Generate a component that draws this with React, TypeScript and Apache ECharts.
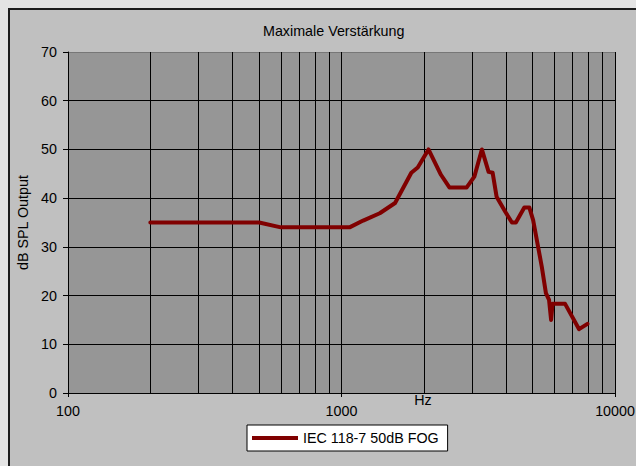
import React, { useEffect, useRef } from "react";
import * as echarts from "echarts";

const chartTitle = "Maximale Verstärkung";
const seriesName = "IEC 118-7 50dB FOG";
const xAxisName = "Hz";
const yAxisName = "dB SPL Output";

const freqHz = [200, 300, 400, 500, 600, 700, 800, 900, 1000, 1070, 1200, 1380, 1570, 1800, 1900, 2080, 2310, 2480, 2870, 3060, 3260, 3450, 3570, 3690, 3970, 4200, 4340, 4660, 4860, 5020, 5400, 5590, 5740, 5840, 5910, 6570, 7390, 7930];
const outputDb = [35, 35, 35, 35, 34, 34, 34, 34, 34, 34, 35.4, 36.9, 39, 45.2, 46.3, 50, 44.8, 42.2, 42.2, 44.4, 50, 45.4, 45.2, 40.3, 37.2, 35, 35, 38.1, 38.1, 35.5, 25.9, 20.5, 19.1, 15, 18.3, 18.3, 13.1, 14.2];

const minorGridHz = [200, 300, 400, 500, 600, 700, 800, 900, 2000, 3000, 4000, 5000, 6000, 7000, 8000, 9000];

const xMin = 100;
const xMax = 10000;
const yMin = 0;
const yMax = 70;
const yInterval = 10;

const FONT = "'Liberation Sans', Arial, sans-serif";

export default function App() {
  const ref = useRef<HTMLDivElement>(null);

  useEffect(() => {
    if (!ref.current) return;
    const chart = echarts.init(ref.current, undefined, { renderer: "svg" });
    const option: any = {
      animation: false,
      backgroundColor: "#e4e4e4",
      textStyle: { fontFamily: FONT },
      title: {
        text: chartTitle,
        left: 263,
        top: 24,
        padding: 0,
        textStyle: { fontSize: 14.3, fontWeight: "normal", color: "#000", fontFamily: FONT },
      },
      graphic: [
        {
          type: "rect",
          z: -10,
          silent: true,
          shape: { x: 9, y: 9, width: 640, height: 470 },
          style: { fill: "#c0c0c0", stroke: "#1e1e1e", lineWidth: 2 },
        },
        {
          type: "text",
          x: 423,
          y: 400,
          silent: true,
          style: {
            text: xAxisName,
            fontSize: 14.3,
            fontFamily: FONT,
            fill: "#000",
            align: "center",
            verticalAlign: "middle",
          },
        },
      ],
      legend: {
        data: [seriesName],
        left: 247,
        top: 425,
        padding: [6, 9, 6, 5],
        backgroundColor: "#fff",
        borderColor: "#000",
        borderWidth: 1,
        borderRadius: 0,
        icon: "rect",
        itemWidth: 46,
        itemHeight: 4,
        itemStyle: { color: "#800000" },
        textStyle: { fontSize: 14.3, color: "#000", fontFamily: FONT },
        selectedMode: false,
      },
      grid: {
        left: 68,
        right: 21,
        top: 52,
        bottom: 73,
        show: true,
        backgroundColor: "#969696",
        borderWidth: 0,
        outerBoundsMode: "none",
      },
      xAxis: {
        type: "log",
        logBase: 10,
        min: xMin,
        max: xMax,
        axisLine: { show: true, lineStyle: { color: "#000", width: 1 } },
        axisTick: { show: true, length: 4, lineStyle: { color: "#000" } },
        axisLabel: {
          fontSize: 14.3,
          color: "#000",
          margin: 11,
          fontFamily: FONT,
          formatter: (v: number) => String(Math.round(v)),
        },
        splitLine: { show: true, lineStyle: { color: "#000", width: 1 } },
      },
      yAxis: {
        type: "value",
        min: yMin,
        max: yMax,
        interval: yInterval,
        name: yAxisName,
        nameLocation: "middle",
        nameGap: 28,
        nameRotate: 90,
        nameTextStyle: { fontSize: 14.3, color: "#000", fontFamily: FONT },
        axisLine: { show: true, lineStyle: { color: "#000", width: 1 } },
        axisTick: { show: true, length: 5, lineStyle: { color: "#000" } },
        axisLabel: { fontSize: 14.3, color: "#000", margin: 11, fontFamily: FONT },
        splitLine: {
          show: true,
          lineStyle: {
            color: ["#000", "#000", "#000", "#000", "#000", "#000", "#000", "#777"],
            width: 1,
          },
        },
      },
      series: [
        {
          name: "grid-minor",
          type: "line",
          data: [],
          silent: true,
          z: 1,
          markLine: {
            silent: true,
            symbol: ["none", "none"],
            label: { show: false },
            animation: false,
            lineStyle: { color: "#000", width: 1, type: "solid" },
            emphasis: { disabled: true },
            data: minorGridHz.map((f) => ({ xAxis: f })),
          },
        },
        {
          name: seriesName,
          type: "line",
          z: 5,
          data: freqHz.map((f, i) => [f, outputDb[i]]),
          showSymbol: false,
          symbol: "none",
          color: "#800000",
          itemStyle: { color: "#800000" },
          lineStyle: { color: "#800000", width: 4, cap: "round", join: "round" },
          emphasis: { disabled: true },
        },
      ],
    };
    chart.setOption(option);
    return () => chart.dispose();
  }, []);

  return (
    <div
      ref={ref}
      style={{ position: "fixed", left: 0, top: 0, width: 636, height: 466 }}
    />
  );
}
